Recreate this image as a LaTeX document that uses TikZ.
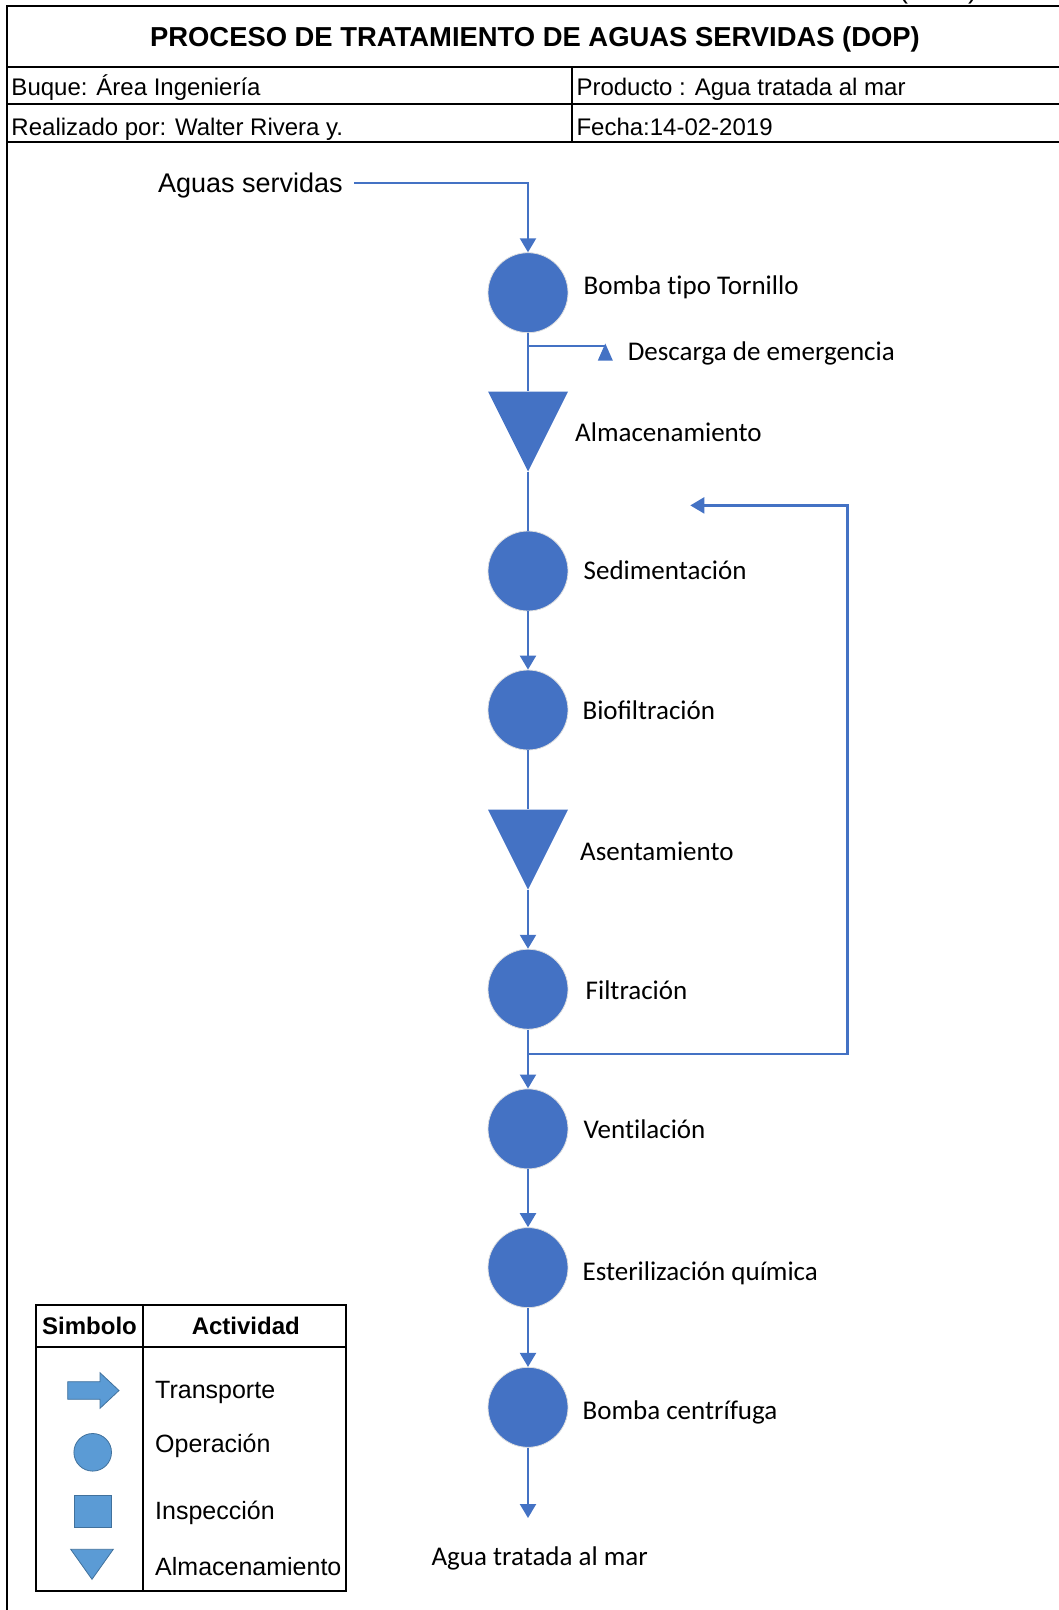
\documentclass[tikz,border=0pt]{standalone}
\usepackage{fontspec}
\setmainfont{Liberation Sans}
\newfontfamily\calibrifont{Carlito}
\usetikzlibrary{arrows.meta}
\definecolor{blu}{HTML}{4472C4}
\definecolor{legfill}{HTML}{5B9BD5}
\definecolor{legdraw}{HTML}{41719C}
\tikzset{
  frame/.style={draw=black, line width=2pt},
  flow/.style={draw=blu, line width=2.2pt},
  arr/.style={-{Triangle[width=16pt,length=14pt]}},
  opc/.style={circle, fill=blu, draw=gray!25, line width=0.8pt, minimum size=80pt, inner sep=0pt},
  stor/.style={minimum width=80pt, minimum height=80pt, inner sep=0pt,
    path picture={\fill[blu] (path picture bounding box.north west) -- (path picture bounding box.north east) -- (path picture bounding box.south) -- cycle;}},
  smalltri/.style={minimum width=15pt, minimum height=17pt, inner sep=0pt,
    path picture={\fill[blu] (path picture bounding box.south west) -- (path picture bounding box.south east) -- (path picture bounding box.north) -- cycle;}},
  lab/.style={anchor=base west, inner sep=0pt, font=\calibrifont\fontsize{27}{32}\selectfont},
  hdr/.style={anchor=base west, inner sep=0pt, font=\fontsize{24}{28}\selectfont},
  legtxt/.style={anchor=base west, inner sep=0pt, font=\fontsize{25}{30}\selectfont},
  leghd/.style={anchor=base, inner sep=0pt, font=\bfseries\fontsize{24}{28}\selectfont},
}
\begin{document}
\begin{tikzpicture}[x=1pt,y=-1pt]
\useasboundingbox (0,0) rectangle (1059,1610);
% header frame
\node[anchor=base, inner sep=0pt, font=\fontsize{27}{32}\selectfont] (paren) at (938,-2) {(\hspace{60pt})};
\draw[frame] (7.3,1612) -- (7.3,5.7) -- (1062,5.7);
\draw[frame] (7.3,66.7) -- (1062,66.7);
\draw[frame] (7.3,104.3) -- (1062,104.3);
\draw[frame] (7.3,141.7) -- (1062,141.7);
\draw[frame] (572,66.7) -- (572,141.7);
\node[anchor=base, inner sep=0pt, font=\bfseries\fontsize{27.4}{32}\selectfont] (title) at (535,46.8) {PROCESO DE TRATAMIENTO DE AGUAS SERVIDAS (DOP)};
\node[hdr] (buque) at (11.3,95) {Buque: Área Ingeniería};
\node[hdr] (real) at (11.3,135) {Realizado por: Walter Rivera y.};
\node[hdr] (prod) at (576.3,95) {Producto : Agua tratada al mar};
\node[hdr] (fecha) at (576.3,135) {Fecha:14-02-2019};

% flow nodes
\node[anchor=base east, inner sep=0pt, font=\fontsize{27}{32}\selectfont] (aguas) at (343,192.5) {Aguas servidas};
\node[opc] (c1) at (528,292.7) {};
\node[stor] (t1) at (528,431.5) {};
\node[opc] (c2) at (528,571) {};
\node[opc] (c3) at (528,710) {};
\node[stor] (t2) at (528,849.5) {};
\node[opc] (c4) at (528,989.2) {};
\node[opc] (c5) at (528,1128.9) {};
\node[opc] (c6) at (528,1267.6) {};
\node[opc] (c7) at (528,1407.3) {};
\node[smalltri] (dtri) at (605.3,352) {};
\coordinate (br1) at (528,345.7);
\coordinate (br2) at (528,1054);
\coordinate (lcorner) at (847.4,505.4);
\coordinate (lend) at (690.3,505.4);
\coordinate (outend) at (528,1518);

% labels
\node[lab] (l1) at (583.5,294.5) {Bomba t\kern0pt ipo Tornillo};
\node[lab] (ld) at (627.6,360) {Descarga de emergencia};
\node[lab] (l2) at (575,441.5) {Almacenamiento};
\node[lab] (l3) at (583.5,579) {Sedimentación};
\node[lab] (l4) at (582.4,719) {Biofiltración};
\node[lab] (l5) at (580,860.5) {Asentamiento};
\node[lab] (l6) at (585.5,999) {Filtración};
\node[lab] (l7) at (583.5,1138) {Vent\kern0pt ilación};
\node[lab] (l8) at (582.4,1280.7) {Esterilización química};
\node[lab] (l9) at (582.4,1419) {Bomba centrífuga};
\node[lab] (lout) at (431.4,1565) {Agua tratada al mar};

% connectors
\draw[flow,arr] ([xshift=11pt,yshift=9.5pt]aguas.base east) -| (c1.north);
\draw[flow] (c1.south) -- (t1.north);
\draw[flow] (br1) -- (br1 -| dtri.north);
\draw[flow] (t1.south) -- (c2.north);
\draw[flow,arr] (c2.south) -- (c3.north);
\draw[flow] (c3.south) -- (t2.north);
\draw[flow,arr] (t2.south) -- (c4.north);
\draw[flow,arr] (c4.south) -- (c5.north);
\draw[flow,arr] (br2) -- (lcorner |- br2) -- (lcorner) -- (lend);
\draw[flow,arr] (c5.south) -- (c6.north);
\draw[flow,arr] (c6.south) -- (c7.north);
\draw[flow,arr] (c7.south) -- (outend);

% legend
\draw[frame] (36,1305) rectangle (345.7,1590.7);
\draw[frame] (36,1346.7) -- (345.7,1346.7);
\draw[frame] (143.3,1305) -- (143.3,1590.7);
\node[leghd] (hs) at (89.5,1334) {Simbolo};
\node[leghd] (ha) at (245.8,1334) {Actividad};
\node[legtxt] (lt1) at (155,1398) {Transporte};
\node[legtxt] (lt2) at (155,1452) {Operación};
\node[legtxt] (lt3) at (155,1519) {Inspección};
\node[legtxt] (lt4) at (155,1575) {Almacenamiento};
\filldraw[fill=legfill, draw=legdraw, line width=0.8pt] (67.7,1381.7) -- (100,1381.7) -- (100,1372.7) -- (119,1390.5) -- (100,1408.3) -- (100,1399.3) -- (67.7,1399.3) -- cycle;
\filldraw[fill=legfill, draw=legdraw, line width=0.8pt] (92.7,1452.3) circle (18.8);
\filldraw[fill=legfill, draw=legdraw, line width=0.8pt] (74,1495.7) rectangle (111,1527.3);
\filldraw[fill=legfill, draw=legdraw, line width=0.8pt] (70.7,1549.3) -- (113.3,1549.3) -- (92,1579.3) -- cycle;
\end{tikzpicture}
\end{document}
